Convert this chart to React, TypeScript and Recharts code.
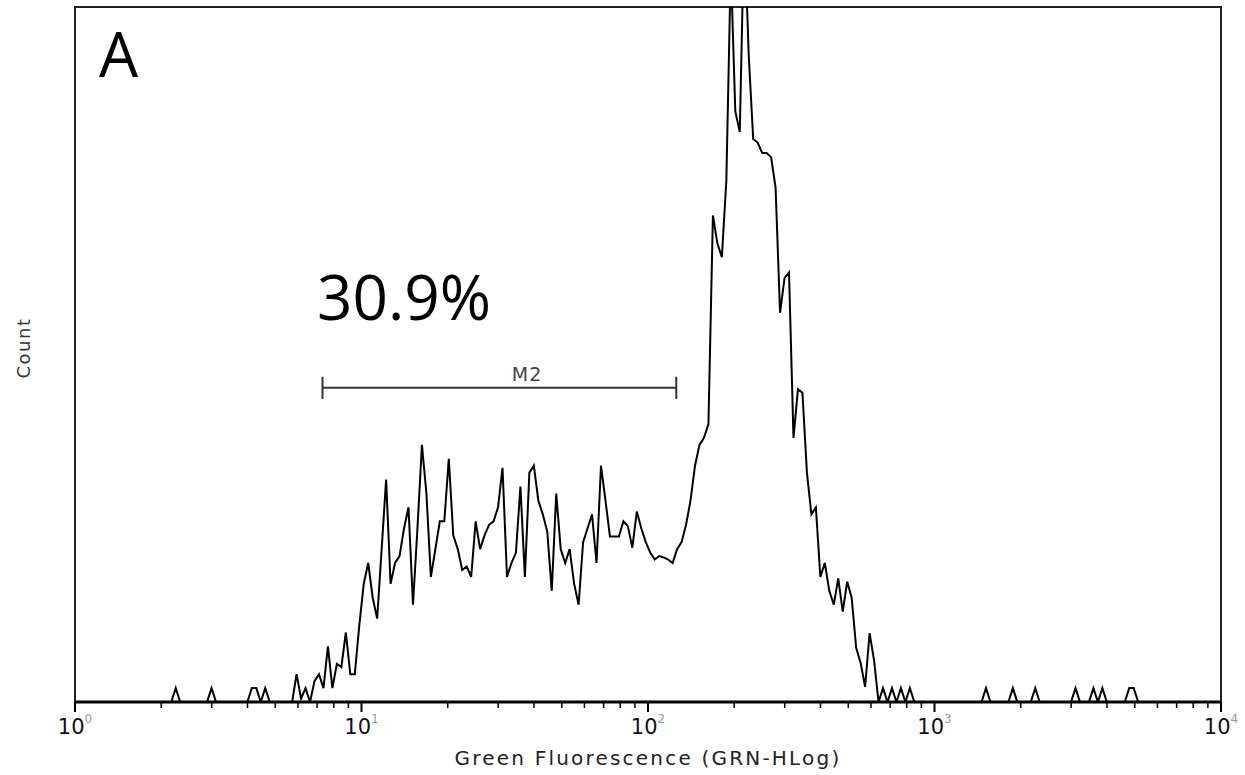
import { LineChart, Line, XAxis, YAxis, ReferenceLine, ReferenceArea } from "recharts";

// histogram counts per channel (256 channels over 4 log decades)
const channelCounts: number[] = [
  // 0-15
  0, 0, 0, 0, 0, 0, 0, 0, 0, 0, 0, 0, 0, 0, 0, 0,
  // 16-31
  0, 0, 0, 0, 0, 0, 2, 0, 0, 0, 0, 0, 0, 0, 2, 0,
  // 32-47
  0, 0, 0, 0, 0, 0, 0, 2, 2, 0, 2, 0, 0, 0, 0, 0,
  // 48-63
  0, 4, 0.5, 2, 0, 3, 4, 2, 8, 2, 5.5, 5, 10, 4, 4, 11,
  // 64-79
  17, 20, 15, 12, 22, 32, 17, 20, 21, 25, 28, 14, 25, 37, 30, 18,
  // 80-95
  22, 26, 26, 35, 24, 22, 19, 19.5, 18, 26, 22, 24, 25.5, 26, 28, 33.7,
  // 96-111
  18, 20, 21.5, 31, 18, 33, 34, 29, 27, 24.5, 16, 30, 22, 20, 22, 17,
  // 112-127
  14, 23, 25, 27, 20, 34, 29, 23.8, 23.8, 23.8, 26, 25.3, 22.2, 27.4, 25, 23,
  // 128-143
  21.5, 20.5, 21, 20.8, 20.5, 20, 22, 23, 25.5, 29, 34, 37, 38, 40, 70, 66,
  // 144-159
  64, 75, 106, 85, 82, 112, 93, 81, 80.5, 79, 79, 78.4, 74, 56, 61, 61.8,
  // 160-175
  38, 45, 44.5, 33, 27, 28, 18, 20, 16, 14, 17.8, 13, 17.3, 15, 7.8, 5.6,
  // 176-191
  2.2, 9.9, 6, 0, 2, 0, 2, 0, 2, 0, 2, 0, 0, 0, 0, 0,
  // 192-207
  0, 0, 0, 0, 0, 0, 0, 0, 0, 0, 0, 2, 0, 0, 0, 0,
  // 208-223
  0, 2, 0, 0, 0, 0, 2, 0, 0, 0, 0, 0, 0, 0, 0, 2,
  // 224-239
  0, 0, 0, 2, 0, 2, 0, 0, 0, 0, 0, 2, 2, 0, 0, 0,
  // 240-255
  0, 0, 0, 0, 0, 0, 0, 0, 0, 0, 0, 0, 0, 0, 0, 0,
];

const CHANNELS = 256;
const DECADES = 4;

const majorTicks = [1, 10, 100, 1000, 10000];
const minorSteps = [2, 3, 4, 5, 6, 7, 8, 9];

// M2 marker gate
const gateStart = 7.31;
const gateEnd = 125.5;
const gateLevel = 45.2;
const gateLabel = "M2";
const percentLabel = "30.9%";
const panelLabel = "A";

const data = channelCounts.map((count, ch) => ({
  fl: Math.pow(10, (DECADES * (ch + 0.5)) / CHANNELS),
  count,
}));

const allTicks = [
  ...majorTicks,
  ...majorTicks.slice(0, -1).flatMap((d) => minorSteps.map((m) => m * d)),
].sort((a, b) => a - b);

function LogTick(props: any) {
  const { x, y, payload } = props;
  const exp = Math.log10(payload.value);
  const major = Math.abs(exp - Math.round(exp)) < 1e-6;
  if (!major) {
    return <line x1={x} x2={x} y1={y} y2={y + 6} stroke="#000" strokeWidth={1.5} />;
  }
  return (
    <g>
      <line x1={x} x2={x} y1={y} y2={y + 10} stroke="#000" strokeWidth={2} />
      <text
        x={x}
        y={y + 32}
        textAnchor="middle"
        fontFamily="DejaVu Sans"
        fontSize={21}
        fill="#111"
      >
        10
        <tspan fontSize={12} fill="#999" dy={-11}>
          {Math.round(exp)}
        </tspan>
      </text>
    </g>
  );
}

export default function App() {
  return (
    <div style={{ position: "relative", width: 1245, height: 775, background: "#fff" }}>
      <style>{"body{margin:0}"}</style>
      <LineChart
        width={1245}
        height={775}
        data={data}
        margin={{ top: 7, right: 24, bottom: 33, left: 75 }}
      >
        <XAxis
          dataKey="fl"
          type="number"
          scale="log"
          domain={[1, 10000]}
          allowDataOverflow
          ticks={allTicks}
          interval={0}
          height={40}
          tickSize={0}
          tickMargin={0}
          tickLine={false}
          axisLine={{ stroke: "#000", strokeWidth: 3 }}
          tick={<LogTick />}
        />
        <YAxis hide width={0} type="number" domain={[0, 100]} allowDataOverflow />
        <ReferenceArea
          x1={1}
          x2={10000}
          y1={0}
          y2={100}
          fill="#fff"
          fillOpacity={0}
          stroke="#222"
          strokeWidth={2}
        />
        <ReferenceLine
          segment={[
            { x: gateStart, y: gateLevel },
            { x: gateEnd, y: gateLevel },
          ]}
          stroke="#333"
          strokeWidth={2}
        />
        <ReferenceLine
          segment={[
            { x: gateStart, y: gateLevel - 1.6 },
            { x: gateStart, y: gateLevel + 1.6 },
          ]}
          stroke="#333"
          strokeWidth={2}
        />
        <ReferenceLine
          segment={[
            { x: gateEnd, y: gateLevel - 1.6 },
            { x: gateEnd, y: gateLevel + 1.6 },
          ]}
          stroke="#333"
          strokeWidth={2}
        />
        <Line
          type="linear"
          dataKey="count"
          stroke="#000"
          strokeWidth={2}
          dot={false}
          isAnimationActive={false}
        />
      </LineChart>
      <svg
        width={1245}
        height={775}
        style={{ position: "absolute", left: 0, top: 0, pointerEvents: "none" }}
      >
        <text x={99} y={77} fontFamily="Open Sans" fontSize={62} fill="#000">
          {panelLabel}
        </text>
        <text x={317} y={320} fontFamily="Open Sans" fontSize={62} fill="#000">
          {percentLabel}
        </text>
        <text
          x={527}
          y={381}
          textAnchor="middle"
          fontFamily="DejaVu Sans"
          fontSize={19}
          letterSpacing={1}
          fill="#444"
        >
          {gateLabel}
        </text>
        <text
          x={648}
          y={765}
          textAnchor="middle"
          fontFamily="DejaVu Sans"
          fontSize={20}
          letterSpacing={2.2}
          fill="#222"
        >
          Green Fluorescence (GRN-HLog)
        </text>
        <text
          x={0}
          y={0}
          transform="translate(30,348) rotate(-90)"
          textAnchor="middle"
          fontFamily="DejaVu Sans"
          fontSize={18}
          letterSpacing={1.5}
          fill="#333"
        >
          Count
        </text>
      </svg>
    </div>
  );
}
